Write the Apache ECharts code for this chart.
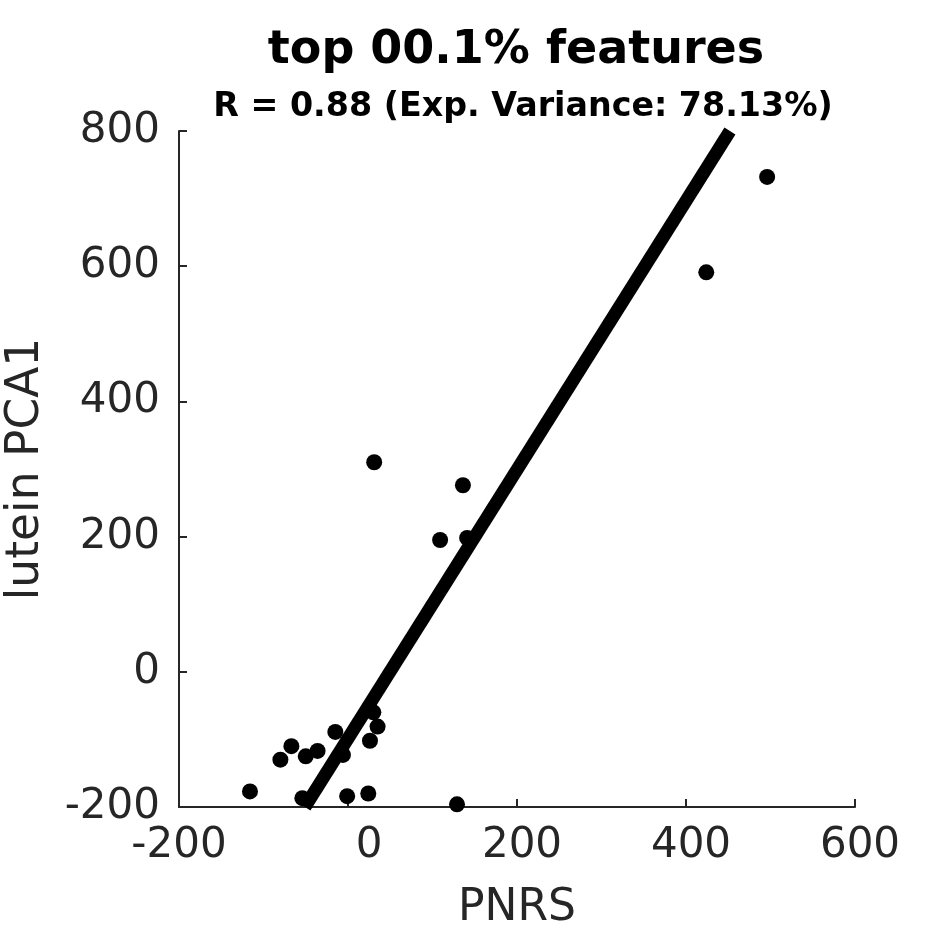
<!DOCTYPE html>
<html>
<head>
<meta charset="utf-8">
<script src="https://cdn.jsdelivr.net/npm/echarts@6/dist/echarts.min.js"></script>
<style>
html,body{margin:0;padding:0;background:#fff;}
#chart{width:945px;height:945px;}
</style>
</head>
<body>
<div id="chart"></div>
<script>
// Data
const pnrs   = [496, 424, 31, 136, 109, 141, -116, -80, -67, -50, -36, -54, -15, -6, 30, 35, 26, -1, 24, 129];
const lutein = [732, 591, 310, 276, 195, 198, -177, -130, -110, -125, -117, -187, -89, -123, -60, -81, -102, -184, -180, -196];
const fitX = [-51, 452];
const fitY = [-200, 800];
const xTicks = [-200, 0, 200, 400, 600];
const yTicks = [-200, 0, 200, 400, 600, 800];
const titleText = 'top 00.1% features';
const subtitleText = 'R = 0.88 (Exp. Variance: 78.13%)';
const xName = 'PNRS';
const yName = 'lutein PCA1';

const points = pnrs.map((x, i) => [x, lutein[i]]);
const fitLine = fitX.map((x, i) => [x, fitY[i]]);

const FONT = 'DejaVu Sans';
const TXT = '#262626';
const TICK_FS = 42;

const chart = echarts.init(document.getElementById('chart'), null, {renderer: 'canvas'});
chart.setOption({
  animation: false,
  backgroundColor: '#ffffff',
  title: [
    {text: titleText, left: 511, top: 23, textAlign: 'center',
     textStyle: {fontFamily: FONT, fontWeight: 'bold', fontSize: 46, color: '#000'}},
    {text: subtitleText, left: 518, top: 86, textAlign: 'center',
     textStyle: {fontFamily: FONT, fontWeight: 'bold', fontSize: 33.3, color: '#000'}}
  ],
  grid: {left: 179, right: 90, top: 131, bottom: 138, containLabel: false, outerBoundsMode: 'none'},
  xAxis: {
    type: 'value', min: -200, max: 600, interval: 200,
    name: xName, nameLocation: 'middle', nameGap: 80,
    nameTextStyle: {fontFamily: FONT, fontSize: 44, color: TXT},
    axisLine: {show: true, onZero: false, lineStyle: {color: TXT, width: 2}},
    axisTick: {show: true, inside: true, length: 8, lineStyle: {color: TXT, width: 2}},
    splitLine: {show: false},
    axisLabel: {
      margin: 18, fontFamily: FONT, fontSize: TICK_FS, color: TXT,
      formatter: function (v) {
        if (v === 0) return '{z|0}';
        if (v > 0) return '{p|' + v + '}';
        return '{n|' + v + '}';
      },
      rich: {
        z: {fontFamily: FONT, fontSize: TICK_FS, color: TXT, padding: [0, 0, 0, 42]},
        p: {fontFamily: FONT, fontSize: TICK_FS, color: TXT, padding: [0, 0, 0, 10]},
        n: {fontFamily: FONT, fontSize: TICK_FS, color: TXT}
      }
    }
  },
  yAxis: {
    type: 'value', min: -200, max: 800, interval: 200,
    name: yName, nameLocation: 'middle', nameGap: 130,
    nameTextStyle: {fontFamily: FONT, fontSize: 45.5, color: TXT},
    axisLine: {show: true, onZero: false, lineStyle: {color: TXT, width: 2}},
    axisTick: {show: true, inside: true, length: 8, lineStyle: {color: TXT, width: 2}},
    splitLine: {show: false},
    axisLabel: {margin: 19, fontFamily: FONT, fontSize: TICK_FS, color: TXT}
  },
  series: [
    {
      type: 'line', data: fitLine, symbol: 'none', clip: false,
      lineStyle: {color: '#000', width: 13, cap: 'butt'}, z: 2
    },
    {
      type: 'scatter', data: points, symbol: 'circle', symbolSize: 16,
      itemStyle: {color: '#000', opacity: 1}, z: 3
    }
  ]
});
</script>
</body>
</html>
